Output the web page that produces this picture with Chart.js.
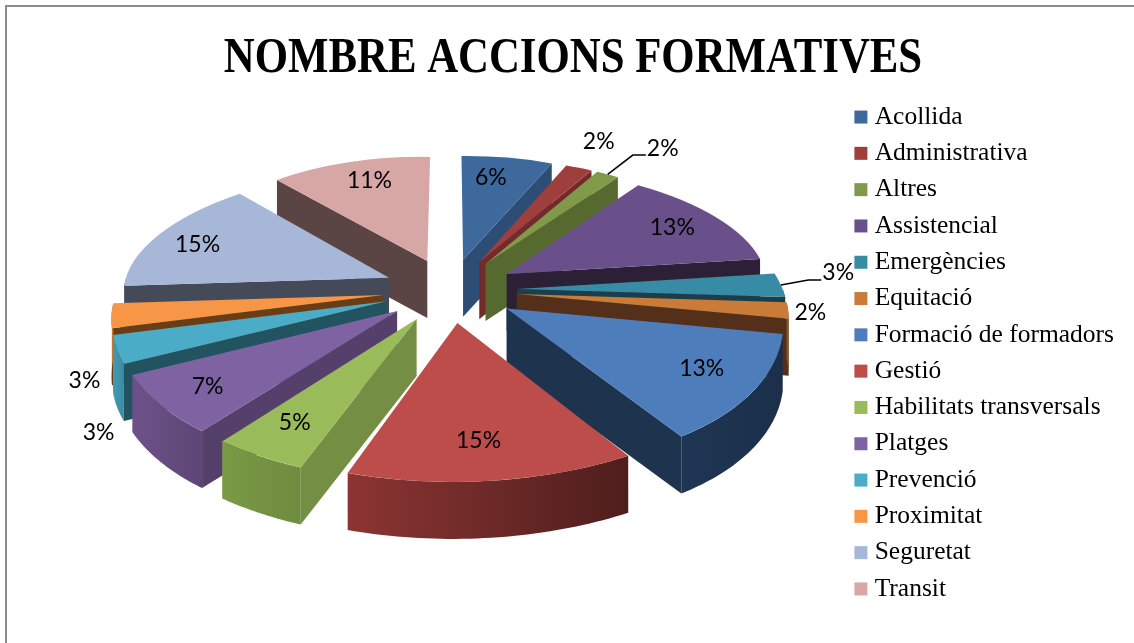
<!DOCTYPE html>
<html>
<head>
<meta charset="utf-8">
<title>Nombre accions formatives</title>
<script src="https://cdn.jsdelivr.net/npm/chart.js@4"></script>
<style>
    body { margin: 0; background: #fff; }
    #frame { position: absolute; left: 5px; top: 5px; right: 0; bottom: 0; border-left: 2px solid #8c8c8c; border-top: 2px solid #8c8c8c; }
    #chart { position: absolute; left: 0; top: 0; }
</style>
</head>
<body>
<div id="frame"></div>
<canvas id="chart" width="1134" height="643"></canvas>
<script>
var titleText = 'NOMBRE ACCIONS FORMATIVES';
var categories = ['Acollida', 'Administrativa', 'Altres', 'Assistencial', 'Emergències', 'Equitació', 'Formació de formadors', 'Gestió', 'Habilitats transversals', 'Platges', 'Prevenció', 'Proximitat', 'Seguretat', 'Transit'];
var values = [6.49, 1.9, 1.61, 13, 3, 2, 13, 14.6, 4.8, 7.2, 3.4, 3, 14.6, 11.4];

// faces of each slice
var topColors = ['#3e699c', '#9e3f3c', '#7f9a48', '#69508a', '#388ba5', '#c97b37', '#4d7ebb', '#bc4d4a', '#9abb59', '#7f62a1', '#4bacc7', '#f79646', '#a6b7d8', '#d7a7a6'];
var edgeColors = ['#2d4d75', '#74292a', '#566a2f', '#2b2035', '#1c3e4a', '#54301a', '#1d334e', '#6e2a28', '#748f44', '#553f6b', '#215360', '#6b3d14', '#444a58', '#5a4544'];
var rimLeft = ['#2d4d75', '#74292a', '#566a2f', '#2b2035', '#1c3e4a', '#8a5522', '#1e3654', '#8c3533', '#7a9a45', '#6d5289', '#429ab3', '#d87f33', '#444a58', '#5a4544'];
var rimRight = ['#2d4d75', '#74292a', '#566a2f', '#2b2035', '#1c3e4a', '#8a5522', '#1b2f4a', '#4e1e1c', '#6f8b40', '#5d4675', '#3a8ba3', '#c06f2c', '#444a58', '#5a4544'];

// label placement: distance from the centre (1 = on the rim) and turn off the slice middle, degrees
var labelReach = [0.786, 1.327, 1.402, 0.8, 1.25, 1.084, 0.786, 0.759, 0.779, 0.811, 1.249, 1.161, 0.817, 0.796];
var labelTurn = [-2.2, -1.5, 2.9, 0, -4.5, 0, -1.8, 1, 0.6, -0.2, -23.6, -22.2, -2.3, 1.9];
var leaderLines = [2, 4];

var view = { cx: 450, cy: 290, tilt: 0.478, persp: 0.00055, explode: 67, depth: 57, titleX: 573, titleScale: 0.856 };

function project(X, Y) {
    var w = 1 - view.persp * Y;
    return { x: view.cx + X / w, y: view.cy + view.tilt * Y / w };
}

function slicePoint(arc, angle, reach) {
    var mid = (arc.startAngle + arc.endAngle) / 2;
    var r = arc.outerRadius * reach;
    return project(view.explode * Math.cos(mid) + r * Math.cos(angle), view.explode * Math.sin(mid) + r * Math.sin(angle));
}

// affine map from the flat arc to the tilted slice, fitted on apex and two rim points
function sliceMatrix(arc) {
    var R = arc.outerRadius;
    var u1x = R * Math.cos(arc.startAngle), u1y = R * Math.sin(arc.startAngle);
    var u2x = R * Math.cos(arc.endAngle), u2y = R * Math.sin(arc.endAngle);
    var d0 = slicePoint(arc, 0, 0);
    var d1 = slicePoint(arc, arc.startAngle, 1);
    var d2 = slicePoint(arc, arc.endAngle, 1);
    var v1x = d1.x - d0.x, v1y = d1.y - d0.y, v2x = d2.x - d0.x, v2y = d2.y - d0.y;
    var det = u1x * u2y - u1y * u2x;
    var a = (v1x * u2y - v2x * u1y) / det;
    var c = (v2x * u1x - v1x * u2x) / det;
    var b = (v1y * u2y - v2y * u1y) / det;
    var d = (v2y * u1x - v1y * u2x) / det;
    return { a: a, b: b, c: c, d: d, e: d0.x - a * arc.x - c * arc.y, f: d0.y - b * arc.x - d * arc.y };
}

function mapped(m, arc, angle) {
    var px = arc.x + arc.outerRadius * Math.cos(angle);
    var py = arc.y + arc.outerRadius * Math.sin(angle);
    return { x: m.a * px + m.c * py + m.e, y: m.b * px + m.d * py + m.f };
}

function drawEdgeWall(ctx, m, arc, angle, color) {
    var apex = { x: m.a * arc.x + m.c * arc.y + m.e, y: m.b * arc.x + m.d * arc.y + m.f };
    var rim = mapped(m, arc, angle);
    ctx.beginPath();
    ctx.moveTo(apex.x, apex.y);
    ctx.lineTo(rim.x, rim.y);
    ctx.lineTo(rim.x, rim.y + view.depth);
    ctx.lineTo(apex.x, apex.y + view.depth);
    ctx.closePath();
    ctx.fillStyle = color;
    ctx.fill();
}

function drawRimWall(ctx, m, arc, i) {
    var from = Math.max(arc.startAngle, 0);
    var to = Math.min(arc.endAngle, Math.PI);
    if (to <= from) return;
    var steps = 40, pts = [], s;
    for (s = 0; s <= steps; s++) {
        pts.push(mapped(m, arc, from + (to - from) * s / steps));
    }
    ctx.beginPath();
    ctx.moveTo(pts[0].x, pts[0].y);
    for (s = 1; s <= steps; s++) ctx.lineTo(pts[s].x, pts[s].y);
    for (s = steps; s >= 0; s--) ctx.lineTo(pts[s].x, pts[s].y + view.depth);
    ctx.closePath();
    var grad = ctx.createLinearGradient(pts[steps].x, 0, pts[0].x, 0);
    grad.addColorStop(0, rimLeft[i]);
    grad.addColorStop(1, rimRight[i]);
    ctx.fillStyle = grad;
    ctx.fill();
}

var tiltedPie = {
    id: 'tiltedPie',
    beforeDraw: function (chart) {
        // title font runs wider than the original one, squeeze it
        var block = chart.titleBlock;
        if (block.squeezed) return;
        var drawTitle = block.draw;
        block.draw = function () {
            var ctx = chart.ctx;
            var mid = (block.left + block.right) / 2;
            ctx.save();
            ctx.translate(view.titleX, 0);
            ctx.scale(view.titleScale, 1);
            ctx.translate(-mid, 0);
            drawTitle.call(block);
            ctx.restore();
        };
        block.squeezed = true;
    },
    beforeDatasetsDraw: function (chart) {
        var ctx = chart.ctx;
        var arcs = chart.getDatasetMeta(0).data;
        var order = arcs.map(function (a, i) { return i; });
        order.sort(function (p, q) {
            return Math.sin((arcs[p].startAngle + arcs[p].endAngle) / 2) - Math.sin((arcs[q].startAngle + arcs[q].endAngle) / 2);
        });
        order.forEach(function (i) {
            var arc = arcs[i];
            var m = sliceMatrix(arc);
            if (Math.cos(arc.startAngle) < 0) drawEdgeWall(ctx, m, arc, arc.startAngle, edgeColors[i]);
            if (Math.cos(arc.endAngle) > 0) drawEdgeWall(ctx, m, arc, arc.endAngle, edgeColors[i]);
            drawRimWall(ctx, m, arc, i);
            ctx.save();
            ctx.transform(m.a, m.b, m.c, m.d, m.e, m.f);
            arc.draw(ctx);
            ctx.restore();
        });
        drawLabels(chart, arcs);
        return false;
    }
};

function drawLabels(chart, arcs) {
    var ctx = chart.ctx;
    var total = values.reduce(function (s, v) { return s + v; }, 0);
    ctx.save();
    ctx.font = '23px Lato';
    ctx.fillStyle = '#000';
    ctx.strokeStyle = '#000';
    ctx.lineWidth = 1.5;
    ctx.textAlign = 'center';
    ctx.textBaseline = 'middle';
    arcs.forEach(function (arc, i) {
        var mid = (arc.startAngle + arc.endAngle) / 2;
        var pos = slicePoint(arc, mid + labelTurn[i] * Math.PI / 180, labelReach[i]);
        var text = Math.round(values[i] / total * 100) + '%';
        ctx.fillText(text, pos.x - 1, pos.y + 1);
        if (leaderLines.indexOf(i) >= 0) {
            var rim = slicePoint(arc, mid, 1);
            var left = pos.x - ctx.measureText(text).width / 2 - 2;
            ctx.beginPath();
            ctx.moveTo(rim.x, rim.y);
            ctx.lineTo(left - 13, pos.y + 8);
            ctx.lineTo(left, pos.y + 8);
            ctx.stroke();
        }
    });
    ctx.restore();
}

new Chart(document.getElementById('chart').getContext('2d'), {
    type: 'pie',
    data: {
        labels: categories,
        datasets: [{ data: values, backgroundColor: topColors, borderWidth: 0, radius: 266, clip: false }]
    },
    options: {
        responsive: false,
        animation: false,
        layout: { padding: { left: 12, right: 10, top: 29, bottom: 30 } },
        plugins: {
            tooltip: { enabled: false },
            title: {
                display: true,
                text: titleText,
                color: '#000',
                font: { family: 'Liberation Serif', size: 50, weight: 'bold' },
                padding: { top: 0, bottom: 4 }
            },
            legend: {
                position: 'right',
                fullSize: false,
                labels: {
                    color: '#000',
                    font: { family: 'Liberation Serif', size: 25.5 },
                    usePointStyle: true,
                    pointStyle: 'rect',
                    boxWidth: 2,
                    boxHeight: 13,
                    padding: 10.8
                }
            }
        }
    },
    plugins: [tiltedPie]
});
</script>
</body>
</html>
